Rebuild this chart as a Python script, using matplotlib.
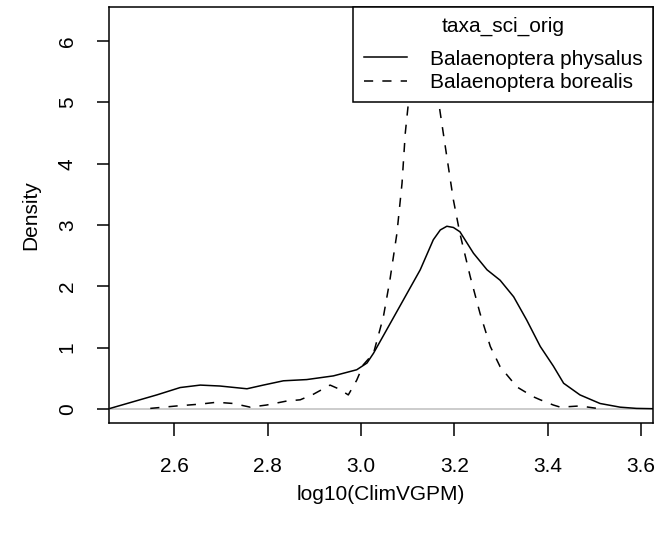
import numpy as np
import matplotlib.pyplot as plt

plt.rcParams['font.family'] = ['Liberation Sans', 'DejaVu Sans']

# density curves
phys_x = [2.463, 2.513, 2.563, 2.613, 2.656, 2.698, 2.756, 2.791, 2.834, 2.884, 2.941,
          2.991, 3.013, 3.027, 3.055, 3.091, 3.127, 3.155, 3.170, 3.184, 3.198, 3.212,
          3.241, 3.270, 3.298, 3.327, 3.355, 3.384, 3.412, 3.434, 3.469, 3.512, 3.555,
          3.590, 3.626]
phys_y = [0.01, 0.12, 0.23, 0.35, 0.39, 0.375, 0.33, 0.39, 0.46, 0.48, 0.54,
          0.64, 0.75, 0.91, 1.29, 1.78, 2.27, 2.76, 2.92, 2.98, 2.96, 2.89,
          2.54, 2.27, 2.10, 1.83, 1.45, 1.02, 0.70, 0.42, 0.23, 0.09, 0.03,
          0.01, 0.005]

bor_x = [2.549, 2.606, 2.656, 2.691, 2.727, 2.763, 2.798, 2.841, 2.870, 2.898, 2.934,
         2.952, 2.973, 2.991, 3.005, 3.027, 3.048, 3.062, 3.077, 3.088, 3.095, 3.100,
         3.110, 3.120, 3.130, 3.142, 3.155, 3.170, 3.184, 3.198, 3.212, 3.234, 3.255,
         3.277, 3.298, 3.334, 3.369, 3.384, 3.412, 3.427, 3.469, 3.510]
bor_y = [0.01, 0.05, 0.08, 0.11, 0.09, 0.03, 0.065, 0.13, 0.15, 0.24, 0.39,
         0.33, 0.23, 0.47, 0.72, 0.91, 1.50, 2.10, 2.86, 3.68, 4.50, 4.87,
         5.6, 6.1, 6.3, 6.15, 5.6, 4.82, 4.11, 3.41, 2.86, 2.16, 1.56,
         1.02, 0.69, 0.36, 0.20, 0.15, 0.065, 0.03, 0.05, 0.005]

species = ['Balaenoptera physalus', 'Balaenoptera borealis']
x_ticks = [2.6, 2.8, 3.0, 3.2, 3.4, 3.6]
y_ticks = [0, 1, 2, 3, 4, 5, 6]

W, H = 659, 533
fig = plt.figure(figsize=(W / 100, H / 100), dpi=100)
ax = fig.add_axes([108.7 / W, (H - 423.3) / H, 544.6 / W, 416.6 / H])

lw = 1.1
ax.axhline(0, color='#bebebe', lw=lw, zorder=1)
ax.plot(phys_x, phys_y, color='black', lw=lw, label=species[0], zorder=2)
ax.plot(bor_x, bor_y, color='black', lw=lw, ls=(0, (6, 6)), label=species[1], zorder=2)

ax.set_xlim(2.460, 3.626)
ax.set_ylim(-0.233, 6.56)
ax.set_xticks(x_ticks)
ax.set_xticklabels([f'{v:.1f}' for v in x_ticks])
ax.set_yticks(y_ticks)
ax.set_yticklabels([str(v) for v in y_ticks], rotation=90, va='center')
ax.tick_params(axis='both', direction='out', length=9, width=lw, labelsize=15, color='black')
ax.tick_params(axis='x', pad=15)
ax.tick_params(axis='y', pad=14)
for s in ax.spines.values():
    s.set_linewidth(lw)

fig.text(381 / W, (H - 500) / H, 'log10(ClimVGPM)', fontsize=15, ha='center', va='baseline')
fig.text(31 / W, (H - 215) / H, 'Density', fontsize=15, rotation=90, ha='center', va='center')

leg = ax.legend(title='taxa_sci_orig', loc='upper right', bbox_to_anchor=(1, 1),
                borderaxespad=0, fontsize=15, title_fontsize=15, frameon=True,
                fancybox=False, framealpha=1, edgecolor='black', borderpad=0.5,
                labelspacing=0.2, handlelength=2.1, handletextpad=1.1)
leg.get_frame().set_linewidth(lw)
leg._legend_box.sep = 9.6  # more room under the title, like R's legend
leg.set_zorder(5)

fig.savefig('out.png', dpi=100)
